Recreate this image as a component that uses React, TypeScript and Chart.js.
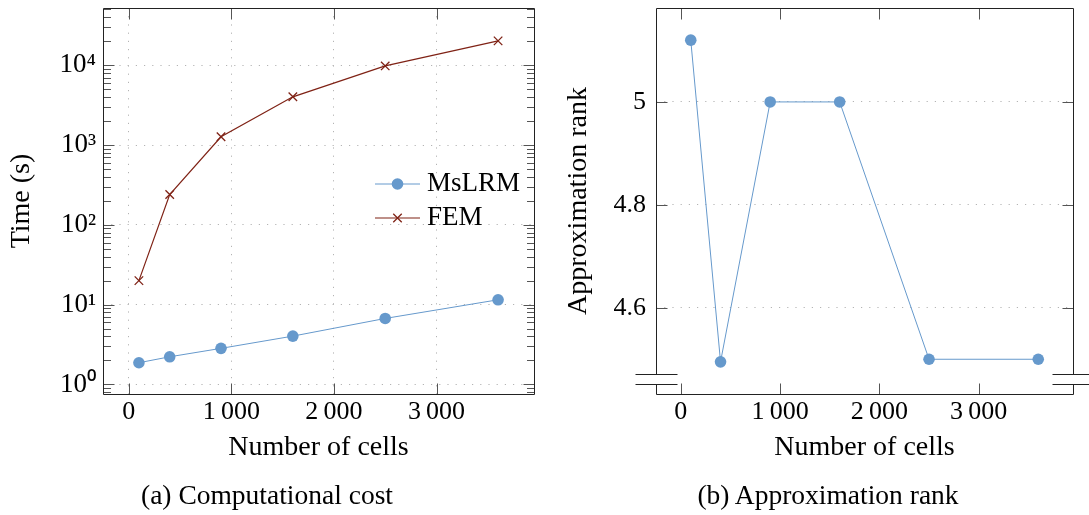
import React, { useEffect, useRef } from 'react';
import { Chart, registerables } from 'chart.js';

Chart.register(...registerables);

// ---------- data ----------
const cells = [100, 400, 900, 1600, 2500, 3600];
const msLrmTime = [1.87, 2.22, 2.83, 4.03, 6.71, 11.5];
const femTime = [20, 240, 1267, 4018, 9800, 20200];
const approxRank = [5.12, 4.495, 5, 5, 4.5, 4.5];

const cellTicks = [0, 1000, 2000, 3000];
const cellTickLabels = ['0', '1\u2009000', '2\u2009000', '3\u2009000'];
const timeTicks = [1, 10, 100, 1000, 10000];
const timeTickLabels = ['10\u2070', '10\u00B9', '10\u00B2', '10\u00B3', '10\u2074'];
const rankTicks = [4.6, 4.8, 5];
const rankTickLabels = ['4.6', '4.8', '5'];

const seriesNames = ['MsLRM', 'FEM'];
const xTitle = 'Number of cells';
const yTitleTime = 'Time (s)';
const yTitleRank = 'Approximation rank';
const captionA = '(a) Computational cost';
const captionB = '(b) Approximation rank';

// ---------- styles ----------
const FAMILY = "'Liberation Serif', 'Times New Roman', serif";
const BLUE = '#6699cc';
const RED = '#7f2215';
const GRID = '#b4b4b4';
const MAJOR = 11;
const MINOR = 7.5;

const X_MIN = -250;
const X_MAX = 3950;
const LOG_MIN = 0.7586;
const LOG_MAX = 52120;
const RANK_MIN = 4.4325;
const RANK_MAX = 5.1825;

function minorLogTicks(min: number, max: number): number[] {
  const out: number[] = [];
  for (let e = -1; e <= 5; e++) {
    for (let k = 2; k <= 9; k++) {
      const v = k * Math.pow(10, e);
      if (v > min && v < max) out.push(v);
    }
  }
  return out;
}

const framePlugin = {
  id: 'frame',
  beforeDatasetsDraw(chart: any, _args: any, opts: any) {
    const { ctx, chartArea: a } = chart;
    const xs = chart.scales.x;
    const ys = chart.scales.y;
    const L = Math.round(a.left) + 0.5;
    const R = Math.round(a.right) + 0.5;
    const T = Math.round(a.top) + 0.5;
    const B = Math.round(a.bottom) + 0.5;
    ctx.save();
    ctx.lineWidth = 1;
    ctx.strokeStyle = '#555';
    ctx.beginPath();
    (opts.xMajor || []).forEach((v: number) => {
      const p = Math.round(xs.getPixelForValue(v)) + 0.5;
      ctx.moveTo(p, B);
      ctx.lineTo(p, B - MAJOR);
      ctx.moveTo(p, T);
      ctx.lineTo(p, T + MAJOR);
    });
    (opts.yMajor || []).forEach((v: number) => {
      const p = Math.round(ys.getPixelForValue(v)) + 0.5;
      ctx.moveTo(L, p);
      ctx.lineTo(L + MAJOR, p);
      ctx.moveTo(R, p);
      ctx.lineTo(R - MAJOR, p);
    });
    (opts.yMinor || []).forEach((v: number) => {
      const p = Math.round(ys.getPixelForValue(v)) + 0.5;
      ctx.moveTo(L, p);
      ctx.lineTo(L + MINOR, p);
      ctx.moveTo(R, p);
      ctx.lineTo(R - MINOR, p);
    });
    ctx.stroke();

    ctx.strokeStyle = '#222';
    ctx.beginPath();
    ctx.moveTo(L, T);
    ctx.lineTo(R, T);
    ctx.moveTo(L, B);
    ctx.lineTo(R, B);
    if (opts.gap) {
      const g1 = Math.round(B - opts.gap[0]) + 0.5;
      const g2 = Math.round(B - opts.gap[1]) + 0.5;
      ctx.moveTo(L, T);
      ctx.lineTo(L, g1);
      ctx.moveTo(L, g2);
      ctx.lineTo(L, B);
      ctx.moveTo(R, T);
      ctx.lineTo(R, g1);
      ctx.moveTo(R, g2);
      ctx.lineTo(R, B);
      const bl = opts.breakLen;
      ctx.moveTo(L - bl, g1);
      ctx.lineTo(L + bl, g1);
      ctx.moveTo(L - bl, g2);
      ctx.lineTo(L + bl, g2);
      ctx.moveTo(R - bl, g1);
      ctx.lineTo(R + 60, g1);
      ctx.moveTo(R - bl, g2);
      ctx.lineTo(R + 60, g2);
    } else {
      ctx.moveTo(L, T);
      ctx.lineTo(L, B);
      ctx.moveTo(R, T);
      ctx.lineTo(R, B);
    }
    ctx.stroke();
    ctx.restore();
  },
};

const legendPlugin = {
  id: 'insideLegend',
  afterDatasetsDraw(chart: any, _args: any, opts: any) {
    if (!opts || !opts.show) return;
    const { ctx, chartArea: a } = chart;
    ctx.save();
    chart.data.datasets.forEach((ds: any, i: number) => {
      const y = Math.round(a.top + opts.top + i * opts.rowGap);
      const x0 = a.right + opts.lineStart;
      const x1 = x0 + opts.lineLen;
      const mx = (x0 + x1) / 2;
      ctx.strokeStyle = ds.borderColor;
      ctx.lineWidth = ds.borderWidth;
      ctx.beginPath();
      ctx.moveTo(x0, y);
      ctx.lineTo(x1, y);
      ctx.stroke();
      if (ds.pointStyle === 'circle') {
        ctx.fillStyle = ds.pointBackgroundColor;
        ctx.beginPath();
        ctx.arc(mx, y, ds.pointRadius, 0, Math.PI * 2);
        ctx.fill();
      } else {
        const d = ds.pointRadius * Math.SQRT1_2;
        ctx.strokeStyle = ds.pointBorderColor;
        ctx.lineWidth = ds.pointBorderWidth;
        ctx.beginPath();
        ctx.moveTo(mx - d, y - d);
        ctx.lineTo(mx + d, y + d);
        ctx.moveTo(mx - d, y + d);
        ctx.lineTo(mx + d, y - d);
        ctx.stroke();
      }
      ctx.fillStyle = '#000';
      ctx.font = `27px ${FAMILY}`;
      ctx.textBaseline = 'middle';
      ctx.textAlign = 'left';
      ctx.fillText(ds.label, x1 + opts.textGap, y);
    });
    ctx.restore();
  },
};

const tickFont = { family: FAMILY, size: 26 };
const titleFont = { family: FAMILY, size: 28, lineHeight: 1 };

function makeTimeChart(canvas: HTMLCanvasElement) {
  return new Chart(canvas, {
    type: 'line',
    data: {
      datasets: [
        {
          label: seriesNames[0],
          data: cells.map((x, i) => ({ x, y: msLrmTime[i] })),
          borderColor: BLUE,
          backgroundColor: BLUE,
          borderWidth: 1,
          pointStyle: 'circle',
          pointRadius: 5.8,
          pointBorderWidth: 0,
          pointBackgroundColor: BLUE,
          pointBorderColor: BLUE,
        },
        {
          label: seriesNames[1],
          data: cells.map((x, i) => ({ x, y: femTime[i] })),
          borderColor: RED,
          backgroundColor: RED,
          borderWidth: 1.2,
          pointStyle: 'crossRot',
          pointRadius: 6,
          pointBorderWidth: 1.3,
          pointBorderColor: RED,
          pointBackgroundColor: RED,
        },
      ],
    },
    options: {
      animation: false,
      responsive: false,
      events: [],
      layout: { padding: { left: 0, top: 8, right: 11, bottom: 51 }, autoPadding: false },
      plugins: {
        legend: { display: false },
        tooltip: { enabled: false },
        frame: {
          xMajor: cellTicks,
          yMajor: timeTicks,
          yMinor: minorLogTicks(LOG_MIN, LOG_MAX),
        },
        insideLegend: { show: true, top: 176, rowGap: 34, lineStart: -159, lineLen: 45, textGap: 7 },
      } as any,
      scales: {
        x: {
          type: 'linear',
          min: X_MIN,
          max: X_MAX,
          afterBuildTicks: (s: any) => {
            s.ticks = cellTicks.map((v) => ({ value: v }));
          },
          afterFit: (s: any) => {
            s.height = 70;
            s.paddingLeft = 0;
            s.paddingRight = 0;
          },
          ticks: {
            callback: (_v: any, i: number) => cellTickLabels[i],
            font: tickFont,
            color: '#000',
            padding: 3,
            maxRotation: 0,
            autoSkip: false,
          },
          grid: { drawTicks: false, color: GRID, lineWidth: 1 },
          border: { display: false, dash: [1.2, 7] },
          title: { display: true, text: xTitle, font: titleFont, color: '#000', padding: { top: 0, bottom: 2 } },
        },
        y: {
          type: 'logarithmic',
          min: LOG_MIN,
          max: LOG_MAX,
          afterBuildTicks: (s: any) => {
            s.ticks = timeTicks.map((v) => ({ value: v, major: true }));
          },
          afterFit: (s: any) => {
            s.width = 103;
            s.paddingTop = 0;
            s.paddingBottom = 0;
          },
          ticks: {
            callback: (_v: any, i: number) => timeTickLabels[i],
            font: { family: FAMILY, size: 27 },
            color: '#000',
            padding: 7,
            autoSkip: false,
          },
          grid: { drawTicks: false, color: GRID, lineWidth: 1 },
          border: { display: false, dash: [1.2, 7] },
          title: { display: true, text: yTitleTime, font: titleFont, color: '#000', padding: { top: 8, bottom: 0 } },
        },
      },
    } as any,
    plugins: [framePlugin, legendPlugin],
  });
}

function makeRankChart(canvas: HTMLCanvasElement) {
  return new Chart(canvas, {
    type: 'line',
    data: {
      datasets: [
        {
          label: seriesNames[0],
          data: cells.map((x, i) => ({ x, y: approxRank[i] })),
          borderColor: BLUE,
          backgroundColor: BLUE,
          borderWidth: 1,
          pointStyle: 'circle',
          pointRadius: 5.8,
          pointBorderWidth: 0,
          pointBackgroundColor: BLUE,
          pointBorderColor: BLUE,
        },
      ],
    },
    options: {
      animation: false,
      responsive: false,
      events: [],
      layout: { padding: { left: 0, top: 8, right: 16, bottom: 51 }, autoPadding: false },
      plugins: {
        legend: { display: false },
        tooltip: { enabled: false },
        frame: {
          xMajor: cellTicks,
          yMajor: rankTicks,
          gap: [21, 11],
          breakLen: 21,
        },
        insideLegend: { show: false },
      } as any,
      scales: {
        x: {
          type: 'linear',
          min: X_MIN,
          max: X_MAX,
          afterBuildTicks: (s: any) => {
            s.ticks = cellTicks.map((v) => ({ value: v }));
          },
          afterFit: (s: any) => {
            s.height = 70;
            s.paddingLeft = 0;
            s.paddingRight = 0;
          },
          ticks: {
            callback: (_v: any, i: number) => cellTickLabels[i],
            font: tickFont,
            color: '#000',
            padding: 3,
            maxRotation: 0,
            autoSkip: false,
          },
          grid: { display: false, drawTicks: false },
          border: { display: false },
          title: { display: true, text: xTitle, font: titleFont, color: '#000', padding: { top: 0, bottom: 2 } },
        },
        y: {
          type: 'linear',
          min: RANK_MIN,
          max: RANK_MAX,
          afterBuildTicks: (s: any) => {
            s.ticks = rankTicks.map((v) => ({ value: v }));
          },
          afterFit: (s: any) => {
            s.width = 111;
            s.paddingTop = 0;
            s.paddingBottom = 0;
          },
          ticks: {
            callback: (_v: any, i: number) => rankTickLabels[i],
            font: tickFont,
            color: '#000',
            padding: 10,
            autoSkip: false,
          },
          grid: { drawTicks: false, color: GRID, lineWidth: 1 },
          border: { display: false, dash: [1.2, 7] },
          title: { display: true, text: yTitleRank, font: titleFont, color: '#000', padding: { top: 20, bottom: 0 } },
        },
      },
    } as any,
    plugins: [framePlugin],
  });
}

const captionStyle = (cx: number): React.CSSProperties => ({
  position: 'absolute',
  left: cx - 300,
  top: 480,
  width: 600,
  textAlign: 'center',
  fontFamily: FAMILY,
  fontSize: 27.5,
  lineHeight: '30px',
  color: '#000',
  whiteSpace: 'nowrap',
});

export default function App() {
  const refA = useRef<HTMLCanvasElement>(null);
  const refB = useRef<HTMLCanvasElement>(null);

  useEffect(() => {
    const a = makeTimeChart(refA.current!);
    const b = makeRankChart(refB.current!);
    return () => {
      a.destroy();
      b.destroy();
    };
  }, []);

  return (
    <div
      style={{
        position: 'absolute',
        left: 0,
        top: 0,
        width: 1089,
        height: 515,
        background: '#fff',
        overflow: 'hidden',
      }}
    >
      <canvas
        ref={refA}
        width={545}
        height={515}
        style={{ position: 'absolute', left: 0, top: 0, width: 545, height: 515 }}
      />
      <canvas
        ref={refB}
        width={544}
        height={515}
        style={{ position: 'absolute', left: 545, top: 0, width: 544, height: 515 }}
      />
      <div style={captionStyle(267)}>{captionA}</div>
      <div style={captionStyle(828)}>{captionB}</div>
    </div>
  );
}
